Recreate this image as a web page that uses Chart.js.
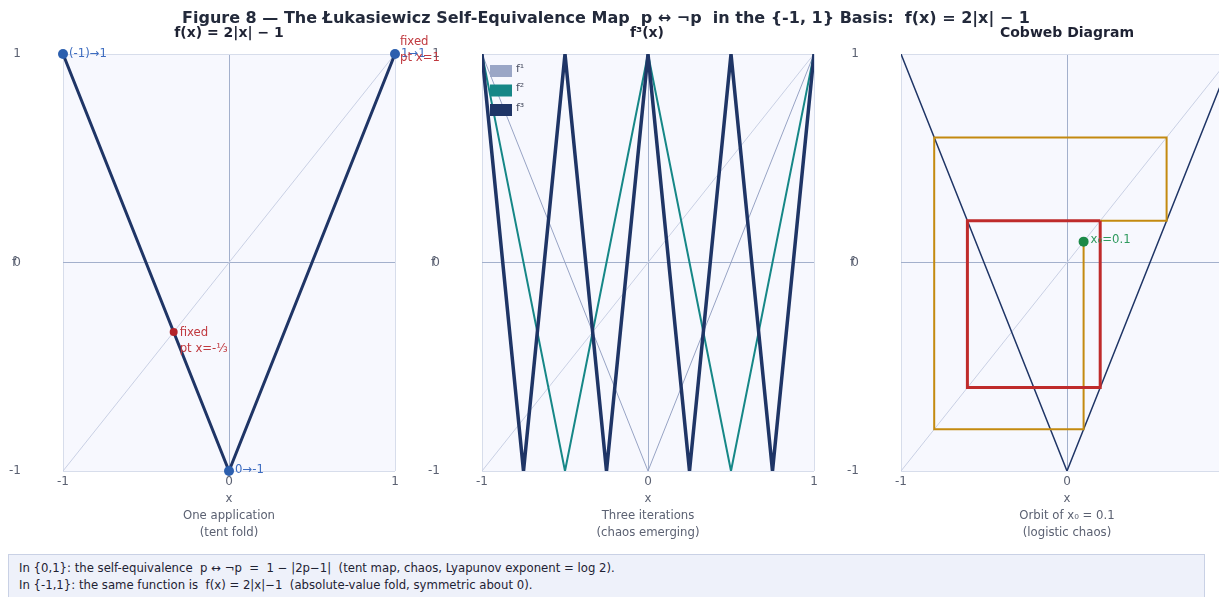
<!DOCTYPE html>
<html><head><meta charset="utf-8">
<script src="https://cdn.jsdelivr.net/npm/chart.js@4.4.0/dist/chart.umd.min.js"></script>
<style>
html,body{margin:0;padding:0;background:#fff;overflow:hidden;width:1219px;height:597px;}
body{position:relative;font-family:"DejaVu Sans",sans-serif;}
.t{position:absolute;white-space:pre;transform:translate(-50%,-50%);}
#title{left:606px;top:17px;font-weight:bold;font-size:16px;color:#232a3b;}
.pt{top:32px;font-weight:bold;font-size:14px;color:#1e2233;}
canvas{position:absolute;top:26px;}
#note{position:absolute;left:8px;top:554px;width:1197px;height:70px;box-sizing:border-box;background:#eef1fa;border:1px solid #c9d1e5;padding:5px 10px;font-size:11.7px;line-height:17px;color:#1e2233;white-space:pre;}
</style></head>
<body>
<canvas id="c3" width="419" height="515" style="left:838px"></canvas>
<canvas id="c2" width="419" height="515" style="left:419px"></canvas>
<canvas id="c1" width="460" height="515" style="left:0px"></canvas>
<div id="title" class="t">Figure 8 — The Łukasiewicz Self-Equivalence Map  p ↔ ¬p  in the {-1, 1} Basis:  f(x) = 2|x| − 1</div>
<div class="t pt" style="left:229px">f(x) = 2|x| − 1</div>
<div class="t pt" style="left:647px">f³(x)</div>
<div class="t pt" style="left:1067px">Cobweb Diagram</div>
<div id="note">In {0,1}: the self-equivalence  p ↔ ¬p  =  1 − |2p−1|  (tent map, chaos, Lyapunov exponent = log 2).
In {-1,1}: the same function is  f(x) = 2|x|−1  (absolute-value fold, symmetric about 0).</div>
<script>
// ---- data ----
const axisTicks = [-1, 0, 1];
const tentX = [-1, 0, 1];
const tentY = [1, -1, 1];
const diagX = [-1, 1];
const diagY = [-1, 1];
const f2X = [-1, -0.5, 0, 0.5, 1];
const f2Y = [1, -1, 1, -1, 1];
const f3X = [-1, -0.75, -0.5, -0.25, 0, 0.25, 0.5, 0.75, 1];
const f3Y = [1, -1, 1, -1, 1, -1, 1, -1, 1];
const orbitX = [0.1, 0.1, -0.8, -0.8, 0.6, 0.6, 0.2];
const orbitY = [0.1, -0.8, -0.8, 0.6, 0.6, 0.2, 0.2];
const cycleX = [0.2, 0.2, -0.6, -0.6, 0.2];
const cycleY = [0.2, -0.6, -0.6, 0.2, 0.2];
const mapPtX = [-1, 1, 0];
const mapPtY = [1, 1, -1];
const mapPtLabels = ['(-1)→1', '1→1', '0→-1'];
const fixedX = [-0.3333, 1];
const fixedY = [-0.3333, 1];
const fixedLabels = [['fixed', 'pt x=-⅓'], ['fixed', 'pt x=1']];
const seedX = [0.1];
const seedY = [0.1];
const seedLabels = ['x₀=0.1'];
const legendLabels = ['f¹', 'f²', 'f³'];
const captions = [['x', 'One application', '(tent fold)'], ['x', 'Three iterations', '(chaos emerging)'], ['x', 'Orbit of x₀ = 0.1', '(logistic chaos)']];

// ---- helpers ----
const pts = (xs, ys) => xs.map((x, i) => ({x, y: ys[i]}));
const NAVY = '#1f3566', TEAL = '#168787', LIGHT = '#97a3c4', DIAG = '#c9d0e4';
const TICK = '#5b6172';
Chart.defaults.font.family = '"DejaVu Sans", sans-serif';

function lineDS(xs, ys, color, width, order) {
  return {data: pts(xs, ys), showLine: true, borderColor: color, backgroundColor: color, borderWidth: width, pointRadius: 0, pointHoverRadius: 0, tension: 0, order, borderJoinStyle: 'miter'};
}
function pointDS(xs, ys, color, r, order, labels, labelColor, offsets) {
  return {data: pts(xs, ys), showLine: false, backgroundColor: color, borderColor: color, borderWidth: 0, pointRadius: r, order, clip: false, pointLabels: labels, labelColor, labelOffsets: offsets};
}

const bgPlugin = {
  id: 'bg',
  beforeDraw(chart) {
    const {ctx, chartArea: a} = chart;
    ctx.save(); ctx.fillStyle = '#f7f8fe';
    ctx.fillRect(a.left, a.top, a.right - a.left, a.bottom - a.top);
    ctx.restore();
  },
  afterDraw(chart) {
    const ctx = chart.ctx;
    const y0 = chart.scales.y.getPixelForValue(0);
    ctx.save(); ctx.font = '12px "DejaVu Sans"'; ctx.fillStyle = TICK;
    ctx.textAlign = 'left'; ctx.textBaseline = 'middle';
    ctx.fillText('f', 12, y0);
    ctx.restore();
  }
};
const labelPlugin = {
  id: 'ptLabels',
  afterDatasetsDraw(chart) {
    const ctx = chart.ctx;
    chart.data.datasets.forEach((ds, di) => {
      if (!ds.pointLabels) return;
      const meta = chart.getDatasetMeta(di);
      ctx.save();
      ctx.font = '11.7px "DejaVu Sans"'; ctx.fillStyle = ds.labelColor;
      ctx.textAlign = 'left'; ctx.textBaseline = 'middle';
      meta.data.forEach((el, i) => {
        const lines = [].concat(ds.pointLabels[i]);
        const off = ds.labelOffsets[i];
        lines.forEach((ln, k) => ctx.fillText(ln, el.x + off[0], el.y + off[1] + k * 16));
      });
      ctx.restore();
    });
  }
};
const legendPlugin = {
  id: 'inLegend',
  afterDatasetsDraw(chart, args, opts) {
    if (!opts.items) return;
    const {ctx, chartArea: a} = chart;
    ctx.save(); ctx.font = '11px "DejaVu Sans"'; ctx.textAlign = 'left'; ctx.textBaseline = 'middle';
    opts.items.forEach((it, i) => {
      const y = a.top + 11 + i * 19.5;
      ctx.fillStyle = it.color; ctx.fillRect(a.left + 8, y, 22, 12);
      ctx.fillStyle = '#4a5063'; ctx.fillText(it.text, a.left + 34, y + 4);
    });
    ctx.restore();
  }
};

function scaleOpts(axis, caption) {
  const o = {
    type: 'linear', min: -1, max: 1,
    afterBuildTicks: s => { s.ticks = axisTicks.map(v => ({value: v})); },
    ticks: {color: TICK, font: {size: 12}, callback: v => String(v)},
    grid: {color: c => (c.tick && c.tick.value === 0) ? '#a3b0cc' : '#d7ddeb', lineWidth: 1, drawTicks: false},
    border: {display: false}
  };
  if (axis === 'x') {
    o.ticks.padding = 4;
    o.title = {display: true, text: caption, color: TICK, font: {size: 11.7, lineHeight: 17 / 11.7}, padding: {top: 0, bottom: 0}};
    o.afterFit = s => { s.height = 70; };
  } else {
    o.ticks.padding = 42;
    o.afterFit = s => { s.width = 63; s.paddingTop = 0; s.paddingBottom = 0; };
  }
  return o;
}

function makeChart(id, datasets, caption, rightPad, legendItems) {
  return new Chart(document.getElementById(id), {
    type: 'scatter',
    data: {datasets},
    options: {
      responsive: false, animation: false, devicePixelRatio: 1,
      layout: {padding: {left: 0, top: 28, right: rightPad, bottom: 0}},
      scales: {x: scaleOpts('x', caption), y: scaleOpts('y')},
      plugins: {legend: {display: false}, tooltip: {enabled: false}, inLegend: {items: legendItems}}
    },
    plugins: [bgPlugin, labelPlugin, legendPlugin]
  });
}

makeChart('c1', [
  pointDS(mapPtX, mapPtY, '#2c5fae', 5, 0, mapPtLabels, '#3d6cc0', [[6, 0], [6, 0], [6, -1]]),
  pointDS(fixedX, fixedY, '#b3232a', 4, 1, fixedLabels, '#c0393f', [[6, 1], [5, -12]]),
  lineDS(tentX, tentY, NAVY, 3, 2),
  lineDS(diagX, diagY, DIAG, 1, 3)
], captions[0], 65);

makeChart('c2', [
  lineDS(f3X, f3Y, NAVY, 3.5, 0),
  lineDS(f2X, f2Y, TEAL, 2, 1),
  lineDS(tentX, tentY, LIGHT, 1, 2),
  lineDS(diagX, diagY, DIAG, 1, 3)
], captions[1], 24, [{text: legendLabels[0], color: '#9aa6c6'}, {text: legendLabels[1], color: TEAL}, {text: legendLabels[2], color: NAVY}]);

makeChart('c3', [
  pointDS(seedX, seedY, '#1d8a48', 5, 0, seedLabels, '#2f9a5e', [[7, -2]]),
  lineDS(cycleX, cycleY, '#bf2b2b', 3, 1),
  lineDS(orbitX, orbitY, '#c48a10', 2, 2),
  lineDS(tentX, tentY, NAVY, 1.5, 3),
  lineDS(diagX, diagY, DIAG, 1, 4)
], captions[2], 24);
</script>
</body></html>
